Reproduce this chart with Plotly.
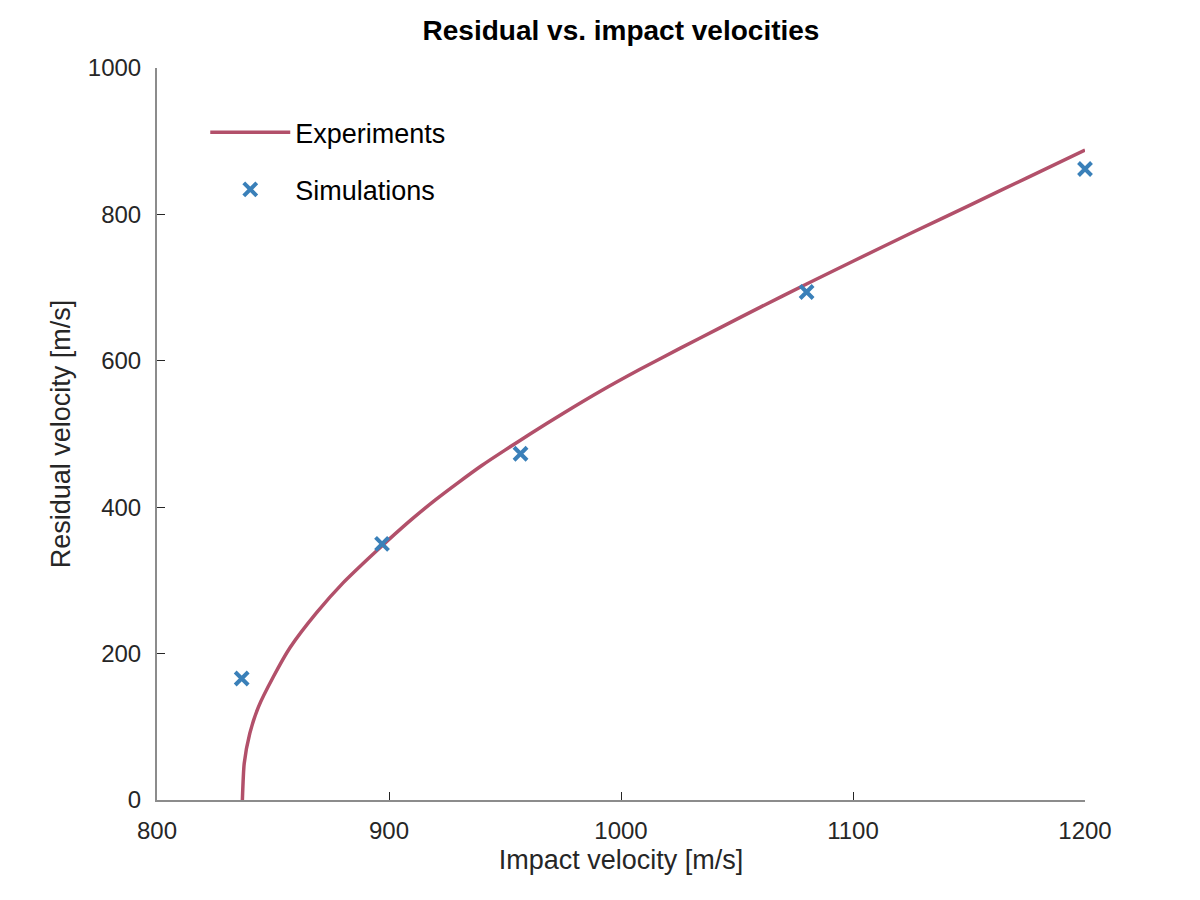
import plotly.graph_objects as go

# Experiments curve
exp_vi = [836.8, 837.6, 840, 843.7, 850.1, 857.3, 868.8, 880.3, 891.1, 900,
          910, 920, 930, 940, 950, 960.8, 975, 990.9, 1008, 1025.4,
          1042, 1059.9, 1080, 1100, 1126, 1150, 1175, 1200]
exp_vr = [0, 50, 91, 127, 168, 208, 256, 297, 330, 356,
          384, 410, 434, 457, 478, 500, 528, 558, 588, 617,
          644, 673, 705, 736, 776, 812, 850, 888]

# Simulations
sim_vi = [836.5, 897, 956.7, 1080, 1200]
sim_vr = [166, 350, 473, 694, 862]

x_ticks = [800, 900, 1000, 1100, 1200]
y_ticks = [0, 200, 400, 600, 800, 1000]

FONT = "Liberation Sans, Arial, Helvetica, sans-serif"

fig = go.Figure()
fig.add_trace(go.Scatter(
    x=exp_vi, y=exp_vr, mode="lines", name="Experiments",
    line=dict(color="#B2506A", width=3.5, shape="spline", smoothing=0.6),
    legendgroup="a"))
fig.add_trace(go.Scatter(
    x=sim_vi, y=sim_vr, mode="markers", name="Simulations", cliponaxis=False,
    marker=dict(symbol="x-thin", size=13, color="#3A80B9",
                line=dict(color="#3A80B9", width=4)), legendgroup="b"))

axis_common = dict(
    showgrid=False, zeroline=False, showline=True, linecolor="#8c8c8c", linewidth=2,
    ticks="inside", ticklen=8, tickcolor="#262626", tickwidth=1,
    tickfont=dict(family=FONT, size=24, color="#262626"),
    mirror=False)

fig.update_layout(
    width=1200, height=900,
    paper_bgcolor="white", plot_bgcolor="white",
    margin=dict(l=149, r=123, t=60, b=108),
    title=dict(text="<b>Residual vs. impact velocities</b>", x=0.5, xref="paper",
               y=1 - 22 / 900, yref="container", yanchor="middle",
               font=dict(family=FONT, size=28, color="black")),
    xaxis=dict(range=[800, 1200], tickvals=x_ticks, ticklabelstandoff=8,
               title=dict(text="Impact velocity [m/s]", standoff=7,
                          font=dict(family=FONT, size=27, color="#262626")),
               **axis_common),
    yaxis=dict(range=[0, 1000], tickvals=y_ticks, ticklabelstandoff=9,
               title=dict(text="Residual velocity [m/s]", standoff=9,
                          font=dict(family=FONT, size=27, color="#262626")),
               **axis_common),
    legend=dict(x=0.052, y=0.945, xanchor="left", yanchor="top",
                bgcolor="rgba(0,0,0,0)", borderwidth=0,
                font=dict(family=FONT, size=27, color="black"),
                traceorder="grouped", tracegroupgap=19, itemwidth=80),
    showlegend=True,
)

fig.write_html("out.html")
